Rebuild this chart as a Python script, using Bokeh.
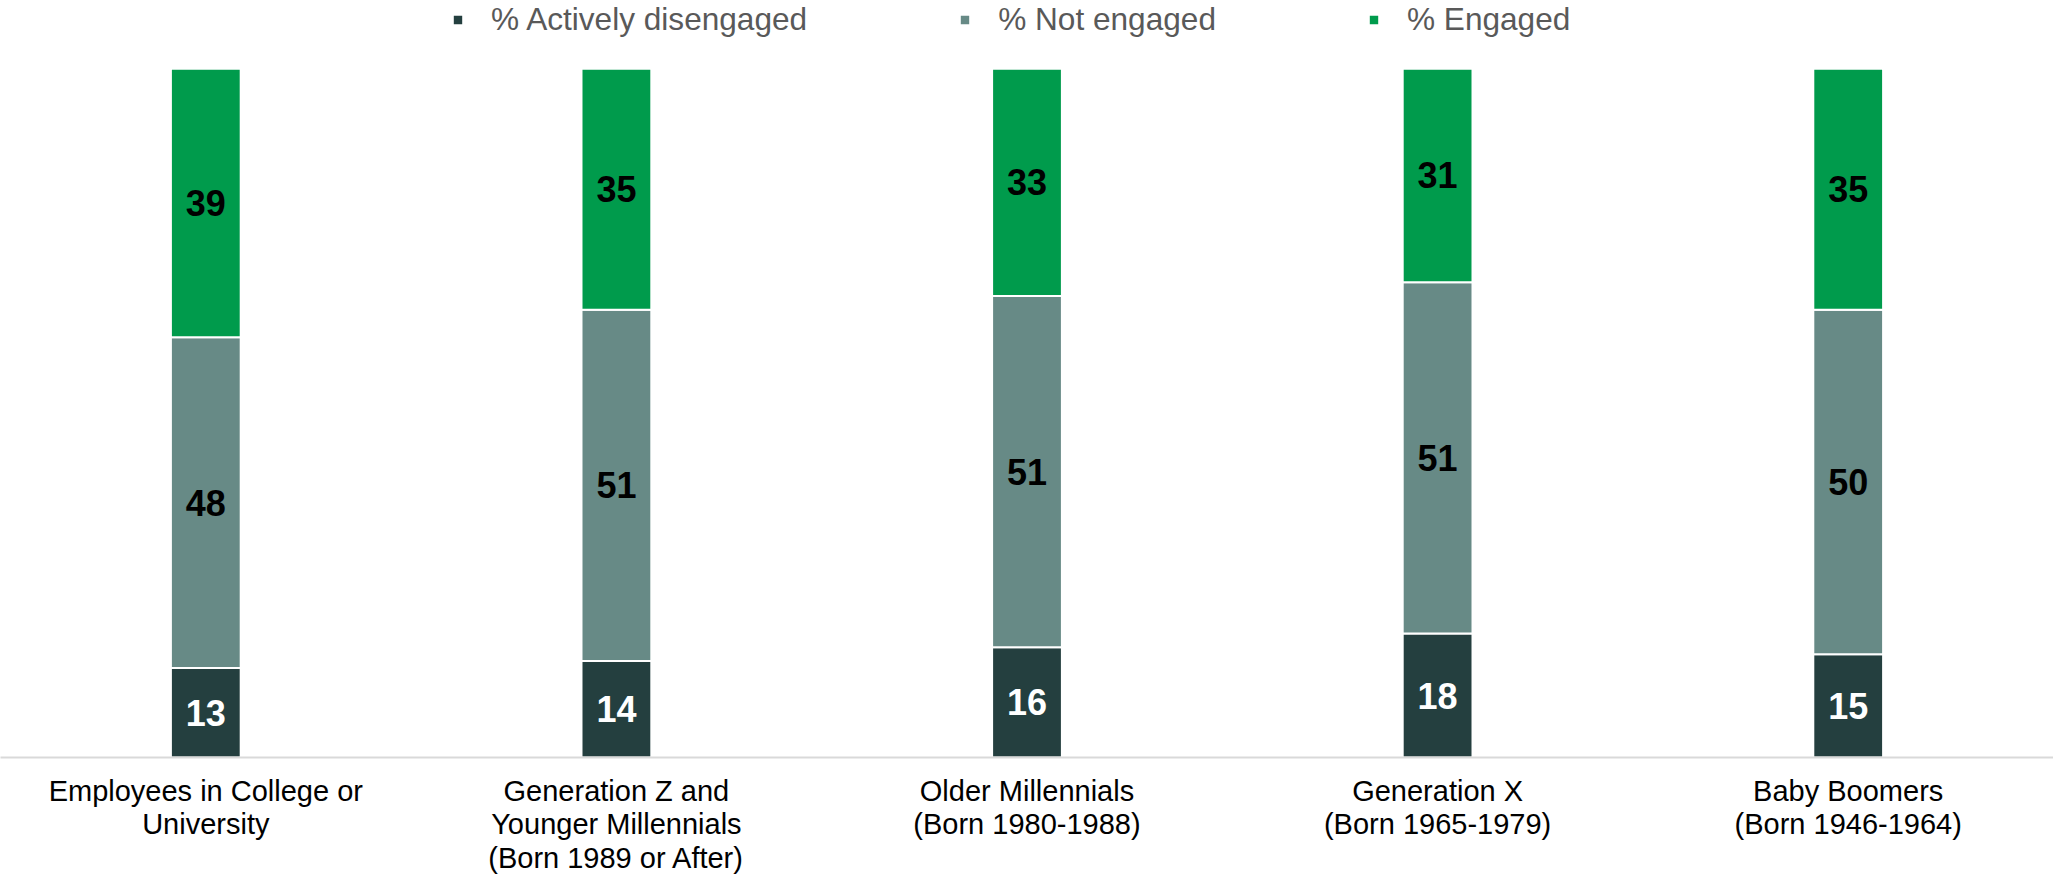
from bokeh.plotting import figure
from bokeh.models import ColumnDataSource, LabelSet, Legend, LegendItem
from bokeh.embed import file_html
from bokeh.resources import INLINE
from bokeh.core.properties import value

categories = [
    "Employees in College or\nUniversity",
    "Generation Z and\nYounger Millennials\n(Born 1989 or After)",
    "Older Millennials\n(Born 1980-1988)",
    "Generation X\n(Born 1965-1979)",
    "Baby Boomers\n(Born 1946-1964)",
]
actively_disengaged = [13, 14, 16, 18, 15]
not_engaged = [48, 51, 51, 51, 50]
engaged = [39, 35, 33, 31, 35]
series_names = ["% Actively disengaged", "% Not engaged", "% Engaged"]
series_keys = ["ad", "ne", "en"]
colors = ["#243F3F", "#678A86", "#009B4C"]
label_colors = ["white", "black", "black"]

FONT = "Liberation Sans"

data = dict(cat=categories, ad=actively_disengaged, ne=not_engaged, en=engaged)
source = ColumnDataSource(data)

p = figure(x_range=categories, y_range=(0, 109.9), width=2053, height=876,
           output_backend="svg", toolbar_location=None, y_axis_location=None,
           min_border_left=0, min_border_right=0, min_border_top=0,
           min_border_bottom=0, outline_line_color=None)

renderers = p.vbar_stack(series_keys, x="cat", width=0.17, source=source,
                         fill_color=colors, line_color="white", line_width=2)

# value labels
for i, key in enumerate(series_keys):
    mids = []
    for j in range(len(categories)):
        base = sum(data[k][j] for k in series_keys[:i])
        mids.append(base + data[key][j] / 2)
    ls = ColumnDataSource(dict(cat=categories, y=mids, t=[str(v) for v in data[key]]))
    p.add_layout(LabelSet(x="cat", y="y", text="t", source=ls,
                          text_align="center", text_baseline="middle",
                          text_font=value(FONT), text_font_style="bold",
                          text_font_size="36px", text_color=label_colors[i]))

legend = Legend(items=[LegendItem(label=n, renderers=[r]) for n, r in zip(series_names, renderers)],
                orientation="horizontal", location=(451, 719),
                glyph_width=13, glyph_height=13, label_standoff=27, label_width=0,
                spacing=151, padding=0, margin=0,
                border_line_color=None, background_fill_alpha=0,
                label_text_font=FONT, label_text_font_size="31.6px",
                label_text_color="#595959")
p.add_layout(legend, "center")

p.xgrid.grid_line_color = None
p.ygrid.grid_line_color = None
ax = p.xaxis[0]
ax.axis_line_color = "#D9D9D9"
ax.axis_line_width = 2
ax.major_tick_line_color = None
ax.minor_tick_line_color = None
ax.major_label_standoff = 11
ax.major_label_text_font = FONT
ax.major_label_text_font_size = "29px"
ax.major_label_text_line_height = 1.05
ax.major_label_text_color = "black"

open("out.html", "w").write(file_html(p, INLINE))
